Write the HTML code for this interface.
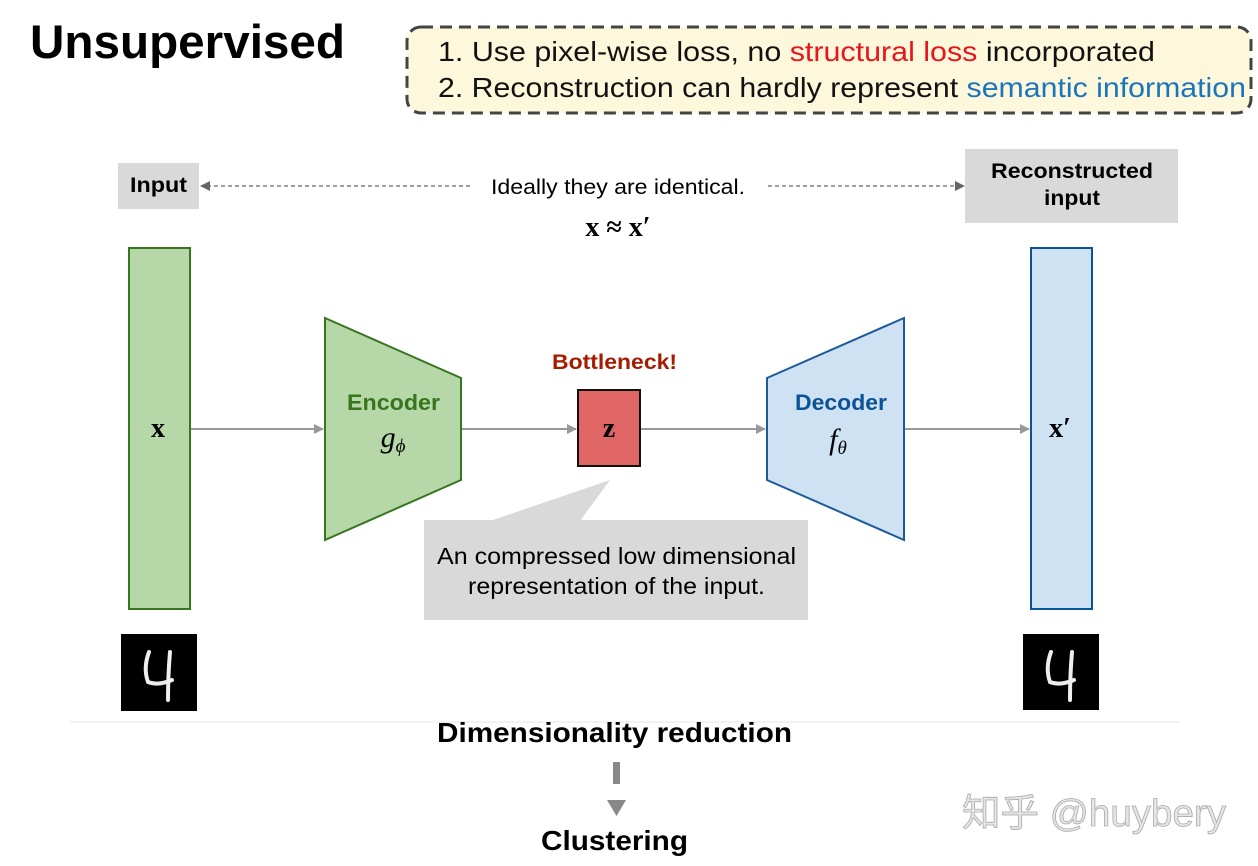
<!DOCTYPE html>
<html><head><meta charset="utf-8"><style>
html,body{margin:0;padding:0;background:#fff;width:1258px;height:866px;overflow:hidden}
svg{display:block}
.s{font-family:"Liberation Sans","Noto Sans CJK SC",sans-serif}
.m{font-family:"Liberation Serif",serif}
</style></head><body>
<svg width="1258" height="866" viewBox="0 0 1258 866" xmlns="http://www.w3.org/2000/svg">
<defs>
<marker id="a" markerWidth="10" markerHeight="10" refX="9" refY="5" orient="auto" markerUnits="userSpaceOnUse"><path d="M0,0 L10,5 L0,10 z" fill="#999"/></marker>
<marker id="d" markerWidth="10" markerHeight="10" refX="9" refY="5" orient="auto" markerUnits="userSpaceOnUse"><path d="M0,0 L10,5 L0,10 z" fill="#666"/></marker>
</defs>
<text x="30" y="58" class="s" font-size="47" font-weight="bold" fill="#000" textLength="315" lengthAdjust="spacingAndGlyphs">Unsupervised</text>
<rect x="407" y="27" width="844" height="86" rx="14" fill="#fdf8dc" stroke="#444" stroke-width="3" stroke-dasharray="12,7"/>
<text x="438" y="61" class="s" font-size="28" fill="#111" textLength="717" lengthAdjust="spacingAndGlyphs">1. Use pixel-wise loss, no <tspan fill="#e8151b">structural loss</tspan> incorporated</text>
<text x="438" y="97" class="s" font-size="28" fill="#111" textLength="808" lengthAdjust="spacingAndGlyphs">2. Reconstruction can hardly represent <tspan fill="#1a75bb">semantic information</tspan></text>

<rect x="118" y="163" width="81" height="46" fill="#d9d9d9"/>
<text x="130" y="192" class="s" font-size="21" font-weight="bold" textLength="57" lengthAdjust="spacingAndGlyphs">Input</text>
<rect x="965" y="149" width="213" height="74" fill="#d9d9d9"/>
<text x="991" y="178" class="s" font-size="21" font-weight="bold" textLength="162" lengthAdjust="spacingAndGlyphs">Reconstructed</text>
<text x="1044" y="205" class="s" font-size="21" font-weight="bold" textLength="56" lengthAdjust="spacingAndGlyphs">input</text>
<line x1="470" y1="186" x2="201" y2="186" stroke="#666" stroke-width="1.3" stroke-dasharray="4,3" marker-end="url(#d)"/>
<line x1="768" y1="186" x2="964" y2="186" stroke="#666" stroke-width="1.3" stroke-dasharray="4,3" marker-end="url(#d)"/>
<text x="491" y="194" class="s" font-size="21" textLength="254" lengthAdjust="spacingAndGlyphs">Ideally they are identical.</text>
<text x="618" y="236" class="m" font-size="28" font-weight="bold" text-anchor="middle">x ≈ x′</text>

<rect x="129" y="248" width="61" height="361" fill="#b6d7a8" stroke="#38761d" stroke-width="2"/>
<text x="158" y="437" class="m" font-size="28" font-weight="bold" text-anchor="middle">x</text>
<rect x="1031" y="248" width="61" height="361" fill="#cfe2f3" stroke="#0b5394" stroke-width="2"/>
<text x="1060" y="437" class="m" font-size="28" font-weight="bold" text-anchor="middle">x′</text>

<polygon points="325,318 461,378 461,480 325,540" fill="#b6d7a8" stroke="#38761d" stroke-width="2"/>
<text x="347" y="410" class="s" font-size="22" font-weight="bold" fill="#38761d" textLength="93" lengthAdjust="spacingAndGlyphs">Encoder</text>
<text x="393" y="447" class="m" font-size="30" font-style="italic" text-anchor="middle">g<tspan font-size="19" dy="5">ϕ</tspan></text>
<polygon points="767,378 904,318 904,540 767,480" fill="#cfe2f3" stroke="#1c5a9a" stroke-width="2"/>
<text x="795" y="410" class="s" font-size="22" font-weight="bold" fill="#0b5394" textLength="92" lengthAdjust="spacingAndGlyphs">Decoder</text>
<text x="838" y="449" class="m" font-size="30" font-style="italic" text-anchor="middle">f<tspan font-size="19" dy="5">θ</tspan></text>

<text x="552" y="369" class="s" font-size="21" font-weight="bold" fill="#a61c00" textLength="125" lengthAdjust="spacingAndGlyphs">Bottleneck!</text>
<rect x="578" y="390" width="62" height="76" fill="#e06666" stroke="#111" stroke-width="2"/>
<text x="609" y="437" class="m" font-size="28" font-weight="bold" text-anchor="middle">z</text>

<g stroke="#999" stroke-width="2" fill="none">
<line x1="191" y1="429" x2="323" y2="429" marker-end="url(#a)"/>
<line x1="462" y1="429" x2="576" y2="429" marker-end="url(#a)"/>
<line x1="641" y1="429" x2="765" y2="429" marker-end="url(#a)"/>
<line x1="905" y1="429" x2="1029" y2="429" marker-end="url(#a)"/>
</g>

<polygon points="490,521 610,480 580,521" fill="#d9d9d9"/>
<rect x="424" y="520" width="384" height="100" fill="#d9d9d9"/>
<text x="437" y="564" class="s" font-size="23" textLength="359" lengthAdjust="spacingAndGlyphs">An compressed low dimensional</text>
<text x="468" y="594" class="s" font-size="23" textLength="297" lengthAdjust="spacingAndGlyphs">representation of the input.</text>

<rect x="121" y="634" width="76" height="77" fill="#000"/>
<path d="M149,652 Q143,668 148,682 Q158,686 172,680 M170,652 Q168,675 168,700" stroke="#eee" stroke-width="4" fill="none" stroke-linecap="round"/>
<rect x="1023" y="634" width="76" height="76" fill="#000"/>
<path d="M1051,652 Q1045,668 1050,682 Q1060,686 1074,680 M1072,652 Q1070,675 1070,700" stroke="#eee" stroke-width="4" fill="none" stroke-linecap="round"/>

<line x1="70" y1="722" x2="1180" y2="722" stroke="#eee" stroke-width="1.5"/>
<text x="437" y="742" class="s" font-size="28" font-weight="bold" textLength="355" lengthAdjust="spacingAndGlyphs">Dimensionality reduction</text>
<rect x="613" y="762" width="7" height="22" fill="#888"/>
<polygon points="607,800 626,800 616.5,816" fill="#888"/>
<text x="541" y="850" class="s" font-size="28" font-weight="bold" textLength="147" lengthAdjust="spacingAndGlyphs">Clustering</text>
<text x="962" y="826" class="s" font-size="38" fill="#e6e6e6" stroke="#aaa" stroke-width="0.8" textLength="264" lengthAdjust="spacingAndGlyphs">知乎 @huybery</text>
</svg>
</body></html>
